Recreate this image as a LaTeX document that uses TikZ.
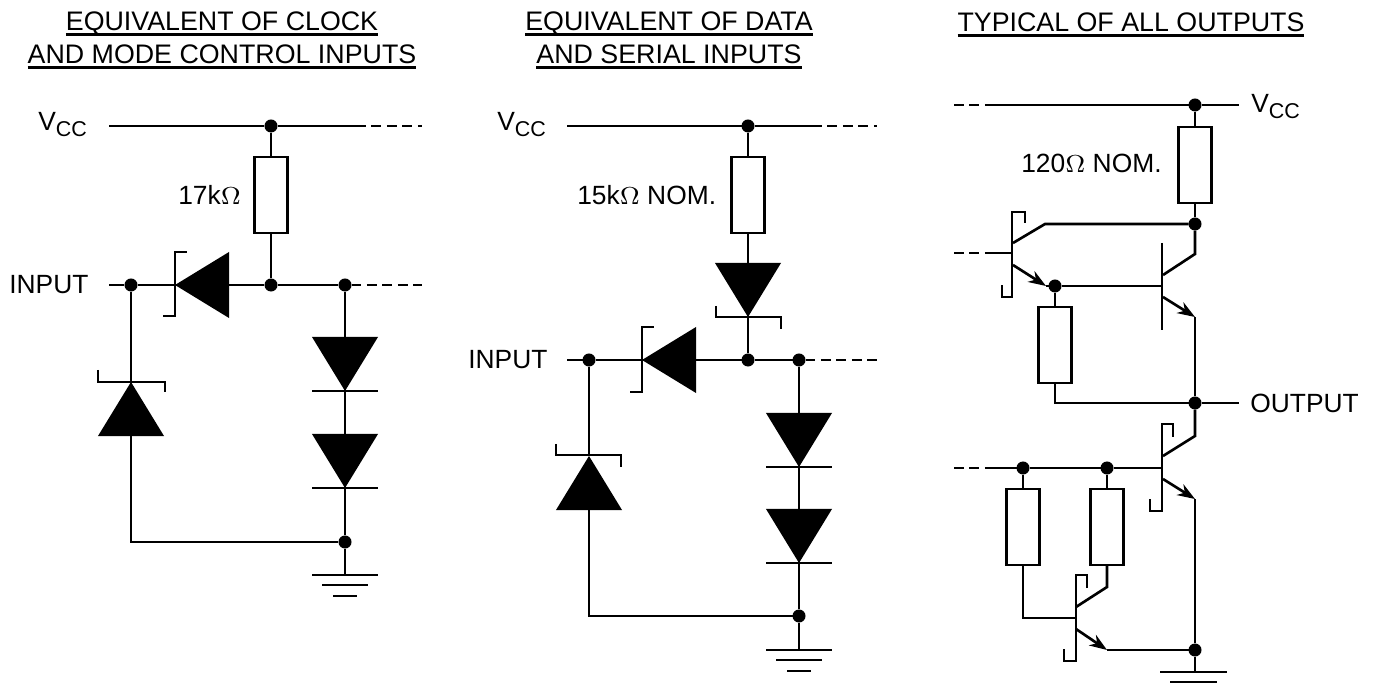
\documentclass[tikz,border=0pt]{standalone}
\usepackage{fontspec}
\setmainfont{Liberation Sans}
\usetikzlibrary{shapes.geometric,arrows.meta}
\newcommand{\headline}[1]{\setbox0\hbox{#1}\rlap{\rule[-1.55pt]{\wd0}{0.85pt}}\box0}
\newcommand{\vcc}{V\raisebox{-1.5pt}{\fontsize{6.1}{7}\selectfont CC}}
\tikzset{
  dot/.style={circle,fill=black,inner sep=0pt,outer sep=0pt,minimum size=0.13cm},
  res/.style={rectangle,draw,fill=white,inner sep=0pt,outer sep=0pt,minimum width=0.33cm,minimum height=0.76cm},
  diode/.style={isosceles triangle,isosceles triangle stretches,fill=black,inner sep=0pt,outer sep=0pt,minimum width=0.66cm,minimum height=0.54cm,anchor=apex},
  down/.style={diode,shape border rotate=-90},
  up/.style={diode,shape border rotate=90},
  left/.style={diode,shape border rotate=180},
  lab/.style={anchor=west,inner sep=0pt,font=\fontsize{7.5}{9}\selectfont},
  supply/.style={lab,anchor=base west},
  head/.style={align=center,inner sep=0pt,font=\fontsize{7.62}{9.35}\selectfont},
  dashwire/.style={dash pattern=on 2.8pt off 1.6pt},
  emit/.style={-{Stealth[length=5pt,width=3.6pt,inset=1.6pt]}}
}
\begin{document}
\begin{tikzpicture}[x=0.01cm,y=-0.01cm,line width=0.75pt]
\useasboundingbox (0,0) rectangle (1375,688);
\node[head] (titleA) at (222,40) {\headline{EQUIVALENT OF CLOCK}\\\headline{AND MODE CONTROL INPUTS}};
\node[head] (titleB) at (669,40) {\headline{EQUIVALENT OF DATA}\\\headline{AND SERIAL INPUTS}};
\node[head] (titleC) at (1131,25) {\headline{TYPICAL OF ALL OUTPUTS}};
% first circuit
\coordinate (Aa) at (109,126);
\coordinate (Ab) at (356,126);
\coordinate (Ac) at (422,126);
\coordinate (Ad) at (109,285);
\coordinate (Ae) at (422,285);
\coordinate (Af) at (131,542);
\coordinate (Ag) at (345,575);
\node[supply] (vccA) at (37,131) {\vcc};
\node[lab] (inA) at (8,285) {INPUT};
\node[lab] (valA) at (177,195) {17k$\Omega$};
\node[dot] (Ja) at (271,126) {};
\node[dot] (Jb) at (131,285) {};
\node[dot] (Jc) at (271,285) {};
\node[dot] (Jd) at (345,285) {};
\node[dot] (Je) at (345,542) {};
\node[res] (Ra) at (271,195) {};
\node[left] (Da) at (175,285) {};
\node[up] (Db) at (131,382) {};
\node[down] (Dc) at (345,391) {};
\node[down] (Dd) at (345,488) {};
\draw (Aa) -- (Ja) -- (Ab);
\draw[dashwire] (Ab) -- (Ac);
\draw (Ja) -- (Ra) -- (Jc);
\draw (Ad) -- (Jb) -- (Da.apex);
\draw (Da) -- (Jc) -- (Jd);
\draw[dashwire] (Jd) -- (Ae);
\draw (Jb) -- (Db.apex);
\draw (Db) -- (Af) -- (Je);
\draw (Jd) -- (Dc);
\draw (Dc.apex) -- (Dd);
\draw (Dd.apex) -- (Je) -- (Ag);
\draw (163,316) -- (175,316) -- (175,252) -- (187,252);
\draw (98,370) -- (98,382) -- (165,382) -- (165,392);
\draw (312,391) -- (378,391);
\draw (312,488) -- (378,488);
\draw (312,575) -- (378,575);
\draw (322,585) -- (368,585);
\draw (333,596) -- (357,596);
% second circuit
\coordinate (Ba) at (567,126);
\coordinate (Bb) at (812,126);
\coordinate (Bc) at (877,126);
\coordinate (Bd) at (567,360);
\coordinate (Be) at (877,360);
\coordinate (Bf) at (589,616);
\coordinate (Bg) at (799,650);
\node[supply] (vccB) at (496,131) {\vcc};
\node[lab] (inB) at (467,360) {INPUT};
\node[lab] (valB) at (576,195) {15k$\Omega$ NOM.};
\node[dot] (Ka) at (748,126) {};
\node[dot] (Kb) at (589,360) {};
\node[dot] (Kc) at (748,360) {};
\node[dot] (Kd) at (799,360) {};
\node[dot] (Ke) at (799,616) {};
\node[res] (Rb) at (748,195) {};
\node[down] (Ea) at (748,317) {};
\node[left] (Eb) at (642,360) {};
\node[up] (Ec) at (589,456) {};
\node[down] (Ed) at (799,467) {};
\node[down] (Ee) at (799,563) {};
\draw (Ba) -- (Ka) -- (Bb);
\draw[dashwire] (Bb) -- (Bc);
\draw (Ka) -- (Rb) -- (Ea);
\draw (Ea.apex) -- (Kc);
\draw (Bd) -- (Kb) -- (Eb.apex);
\draw (Eb) -- (Kc) -- (Kd);
\draw[dashwire] (Kd) -- (Be);
\draw (Kb) -- (Ec.apex);
\draw (Ec) -- (Bf) -- (Ke);
\draw (Kd) -- (Ed);
\draw (Ed.apex) -- (Ee);
\draw (Ee.apex) -- (Ke) -- (Bg);
\draw (716,306) -- (716,317) -- (781,317) -- (781,329);
\draw (630,392) -- (642,392) -- (642,327) -- (654,327);
\draw (556,444) -- (556,455) -- (621,455) -- (621,467);
\draw (766,467) -- (832,467);
\draw (766,563) -- (832,563);
\draw (766,650) -- (832,650);
\draw (776,660) -- (822,660);
\draw (787,671) -- (811,671);
% third circuit
\coordinate (Ca) at (954,105);
\coordinate (Cb) at (988,105);
\coordinate (Cc) at (1239,105);
\coordinate (Cd) at (954,253);
\coordinate (Ce) at (990,253);
\coordinate (Cf) at (1013,253);
\coordinate (Cg) at (1013,243);
\coordinate (Ch) at (1045,224);
\coordinate (Ci) at (1013,265);
\coordinate (Cj) at (1046,286);
\coordinate (Ck) at (1163,286);
\coordinate (Cl) at (1163,275);
\coordinate (Cm) at (1195,254);
\coordinate (Cn) at (1163,297);
\coordinate (Co) at (1195,317);
\coordinate (Cp) at (1055,403);
\coordinate (Cq) at (1239,403);
\coordinate (Cr) at (1163,456);
\coordinate (Cs) at (1195,436);
\coordinate (Ct) at (1163,479);
\coordinate (Cu) at (1195,499);
\coordinate (Cv) at (954,468);
\coordinate (Cw) at (988,468);
\coordinate (Cx) at (1163,468);
\coordinate (Cy) at (1023,618);
\coordinate (Cz) at (1076,618);
\coordinate (Da1) at (1076,607);
\coordinate (Da2) at (1107,587);
\coordinate (Da3) at (1076,629);
\coordinate (Da4) at (1107,650);
\coordinate (Da5) at (1195,672);
\node[supply] (vccC) at (1250,113) {\vcc};
\node[lab] (outC) at (1249,403) {OUTPUT};
\node[lab] (valC) at (1020,163) {120$\Omega$ NOM.};
\node[dot] (La) at (1195,105) {};
\node[dot] (Lb) at (1195,224) {};
\node[dot] (Lc) at (1055,286) {};
\node[dot] (Ld) at (1195,403) {};
\node[dot] (Le) at (1023,468) {};
\node[dot] (Lf) at (1107,468) {};
\node[dot] (Lg) at (1195,650) {};
\node[res] (Rc) at (1195,165) {};
\node[res] (Rd) at (1055,345) {};
\node[res] (Re) at (1023,527) {};
\node[res] (Rf) at (1107,527) {};
\draw[dashwire] (Ca) -- (Cb);
\draw (Cb) -- (La) -- (Cc);
\draw (La) -- (Rc) -- (Lb);
\draw[dashwire] (Cd) -- (Ce);
\draw (Ce) -- (Cf);
\draw (Cg) -- (Ch) -- (Lb);
\draw[emit] (Ci) -- (Cj);
\draw (Cj) -- (Lc) -- (Ck);
\draw (Lb) -- (Cm) -- (Cl);
\draw[emit] (Cn) -- (Co);
\draw (Co) -- (Ld) -- (Cq);
\draw (Lc) -- (Rd);
\draw (Rd) -- (Cp) -- (Ld);
\draw (Ld) -- (Cs) -- (Cr);
\draw[emit] (Ct) -- (Cu);
\draw (Cu) -- (Lg) -- (Da5);
\draw[dashwire] (Cv) -- (Cw);
\draw (Cw) -- (Le) -- (Lf) -- (Cx);
\draw (Le) -- (Re);
\draw (Lf) -- (Rf);
\draw (Re) -- (Cy) -- (Cz);
\draw (Rf) -- (Da2) -- (Da1);
\draw[emit] (Da3) -- (Da4);
\draw (Da4) -- (Lg);
\draw (1025,223) -- (1025,212) -- (1012,212) -- (1012,297) -- (1002,297) -- (1002,285);
\draw (1162,243) -- (1162,330);
\draw (1173,437) -- (1173,424) -- (1162,424) -- (1162,511) -- (1150,511) -- (1150,499);
\draw (1087,588) -- (1087,575) -- (1076,575) -- (1076,661) -- (1064,661) -- (1064,649);
\draw (1160,672) -- (1227,672);
\draw (1170,682) -- (1217,682);
\end{tikzpicture}
\end{document}
